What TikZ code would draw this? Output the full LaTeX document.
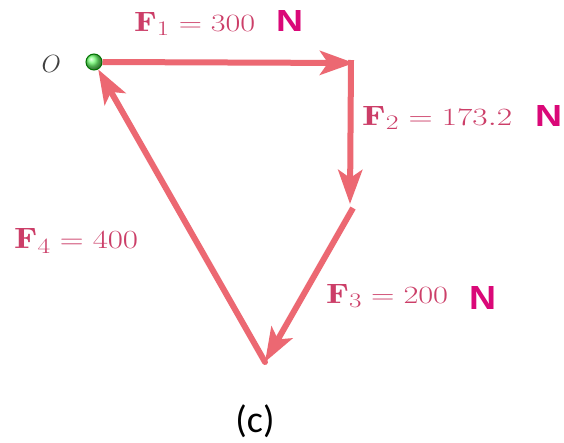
\documentclass[tikz,border=0pt]{standalone}
\usepackage{fontspec}
\newfontfamily\nfont{Liberation Sans}
\newfontfamily\cfont{Carlito}
\usetikzlibrary{arrows.meta}
\definecolor{arrowcol}{RGB}{236,104,114}
\definecolor{labcol}{RGB}{204,62,104}
\definecolor{ncol}{RGB}{218,8,120}
\tikzset{
  vec/.style={line width=6pt, draw=arrowcol, -{Stealth[length=34pt,width=24pt,inset=8pt]}},
  lab/.style={anchor=base west, text=labcol, inner sep=0pt, font=\fontsize{28}{28}\selectfont},
  unit/.style={anchor=base west, text=ncol, inner sep=0pt, font=\nfont\bfseries\fontsize{26}{26}\selectfont},
}
\begin{document}
\begin{tikzpicture}[x=1pt,y=-1pt]
\useasboundingbox[fill=white] (0,0) rectangle (564,442);
\node[circle, minimum size=16pt, inner sep=0pt, draw=green!45!black, line width=1pt, ball color=green!55!white] (O) at (94,62) {};
\node[anchor=east, inner sep=0pt, text=black!75, font=\fontsize{27}{27}\selectfont] (Olab) at (61,64) {$O$};
\coordinate (A) at (354,63);
\coordinate (A2) at (351,60);
\coordinate (B) at (350,204);
\coordinate (B2) at (353,208);
\coordinate (C) at (265,362);
\draw[vec] (O.east) -- (A);
\draw[vec] (A2) -- (B);
\draw[vec] (B2) -- (C);
\draw[vec, line cap=round] (C) -- (O);
\node[lab] (L1) at (134,31) {\resizebox{121pt}{19pt}{$\mathbf{F}_1 = 300$}};
\node[unit] (N1) at (276,31) {\resizebox{27pt}{21pt}{N}};
\node[lab] (L2) at (362,125) {\resizebox{150pt}{19pt}{$\mathbf{F}_2 = 173.2$}};
\node[unit] (N2) at (535,126) {\resizebox{27pt}{21pt}{N}};
\node[lab] (L3) at (326,303) {\resizebox{122pt}{19pt}{$\mathbf{F}_3 = 200$}};
\node[unit] (N3) at (469,309) {\resizebox{27pt}{23pt}{N}};
\node[lab] (L4) at (14,248) {\resizebox{124pt}{20pt}{$\mathbf{F}_4 = 400$}};
\node[anchor=base, inner sep=0pt, font=\cfont\fontsize{38}{38}\selectfont] (cap) at (255,432) {(c)};
\end{tikzpicture}
\end{document}
